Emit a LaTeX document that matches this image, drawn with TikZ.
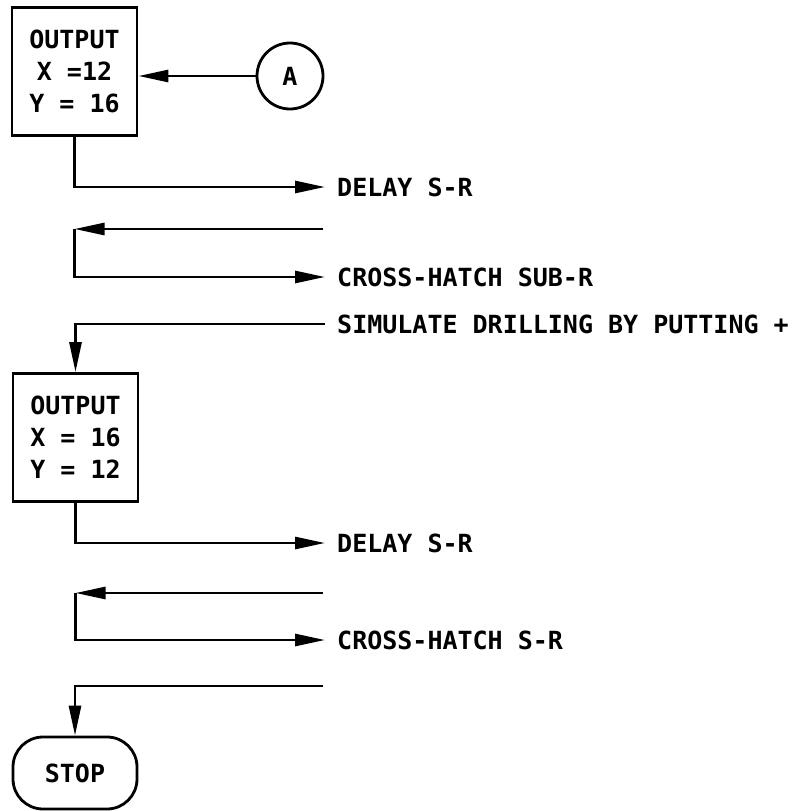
\documentclass[tikz,border=0pt]{standalone}
\usepackage{fontspec}
\newfontfamily\lettering{DejaVu Sans Mono}
\usetikzlibrary{arrows.meta}
\begin{document}
\begin{tikzpicture}[x=1pt,y=-1pt,
		font=\lettering\bfseries\fontsize{25}{32}\selectfont,
		box/.style={draw, line width=2.8pt, minimum width=125pt, minimum height=128pt, align=center, inner sep=0pt},
		stopbox/.style={draw, line width=2.8pt, rounded corners=30pt, minimum width=124pt, minimum height=72pt, inner sep=0pt},
		conn/.style={draw, circle, line width=2.8pt, minimum size=66pt, inner sep=0pt},
		lbl/.style={anchor=west, inner sep=0pt},
		flow/.style={line width=2.8pt},
		arr/.style={flow, -{Triangle[length=30pt,width=12pt]}}]
		\useasboundingbox (0,0) rectangle (804,811);
		
		% Output blocks
		\node[box] (out1) at (74.5,71.5) {OUTPUT\\X =12\\Y = 16};
		\node[conn] (A) at (290,76) {A};
		\node[box] (out2) at (75.5,437.5) {OUTPUT\\X = 16\\Y = 12};
		\node[stopbox] (stop) at (75,773) {STOP};
		
		% Subroutine labels
		\node[lbl] (delay1) at (337,187) {DELAY S-R};
		\node[lbl] (hatch1) at (337,277) {CROSS-HATCH SUB-R};
		\node[lbl] (drill) at (337,324) {SIMULATE DRILLING BY PUTTING +};
		\node[lbl] (delay2) at (337,543) {DELAY S-R};
		\node[lbl] (hatch2) at (337,640) {CROSS-HATCH S-R};
		
		% Returns from the subroutines
		\coordinate (ret1) at (323,229);
		\coordinate (ret2) at (323,593);
		\coordinate (ret3) at (323,686);
		
		% First block
		\draw[arr] (A.west) -- (A.west -| out1.east);
		\draw[arr] (out1.south) |- ([xshift=-12pt]delay1.west);
		\draw[arr] (ret1) -- (out1.south |- ret1);
		\draw[arr] (out1.south |- ret1) |- ([xshift=-12pt]hatch1.west);
		\draw[arr] ([xshift=-12pt]drill.west) -| (out2.north);
		
		% Second block
		\draw[arr] (out2.south) |- ([xshift=-12pt]delay2.west);
		\draw[arr] (ret2) -- (out2.south |- ret2);
		\draw[arr] (out2.south |- ret2) |- ([xshift=-12pt]hatch2.west);
		\draw[arr] (ret3) -| (stop.north);
	\end{tikzpicture}
\end{document}
